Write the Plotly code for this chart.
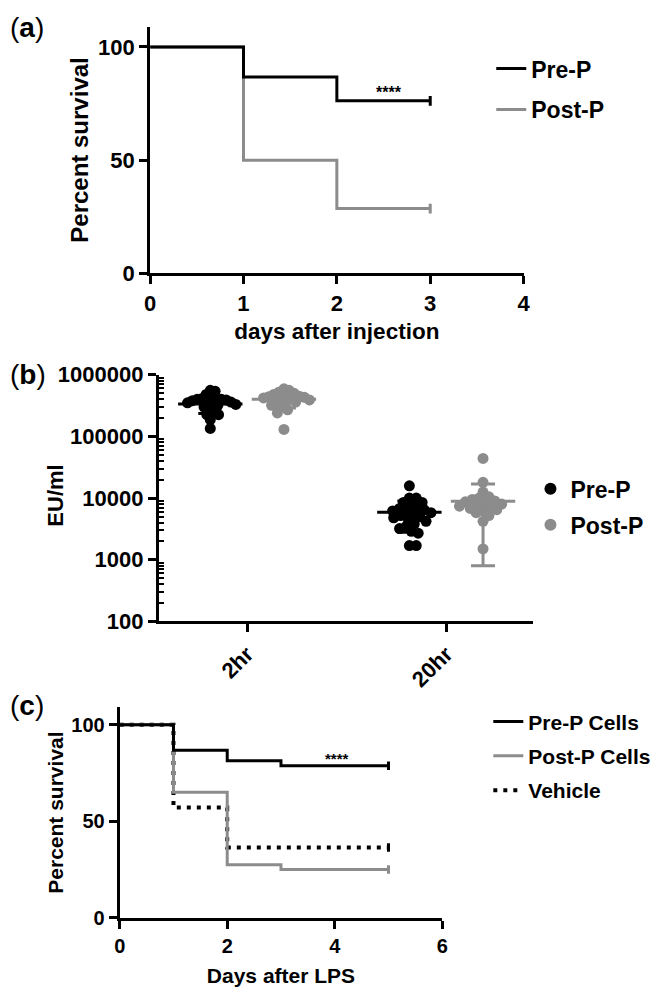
import numpy as np
import plotly.graph_objects as go

# (a) survie apres injection
days_a = [0, 1, 2, 3]
surv_a_pre = [100, 86.7, 76.2, 76.2]
surv_a_post = [100, 50, 28.6, 28.6]

# (b) endotoxine (EU/ml)
groups_b = ["2hr", "20hr"]
pre_2hr = [560000, 540000, 480000, 430000, 420000, 410000, 400000, 400000, 390000,
           380000, 370000, 360000, 350000, 340000, 330000, 320000, 300000, 280000,
           260000, 225000, 225000, 187000, 135000]
post_2hr = [590000, 560000, 520000, 500000, 480000, 460000, 450000, 440000, 430000,
            420000, 410000, 400000, 390000, 380000, 360000, 340000, 320000, 300000,
            270000, 240000, 130000]
pre_20hr = [15800, 10000, 10000, 8500, 8500, 7500, 7000, 6800, 6500, 6200, 6000, 5800,
            5500, 5200, 5000, 4800, 4500, 4200, 3800, 3500, 3200, 2900, 2700, 1700, 1700]
post_20hr = [44000, 18000, 12500, 10500, 10000, 9500, 9000, 8700, 8300, 8000, 7700, 7400,
             7000, 6800, 6500, 6200, 5800, 5200, 4200, 1500]
mean_pre = [335000, 5900]
sd_pre = [100000, 3100]
mean_post = [400000, 8900]
sd_post = [110000, 8100]

# (c) survie apres LPS
days_c = [0, 1, 2, 3, 5]
surv_c_pre = [100, 86.7, 81.3, 78.7, 78.7]
surv_c_post = [100, 65, 27.5, 25, 25]
days_c_veh = [0, 1, 2, 5]
surv_c_veh = [100, 57.1, 36.4, 36.4]

BLACK = "black"
GREY = "#8c8c8c"
FONT = "Arial, Liberation Sans, sans-serif"


def bold(size):
    return dict(family=FONT, size=size, color="black", weight="bold")


# placement "beeswarm" simple, calcule en pixels puis resserre
def swarm(vals, px_x=203.0, px_dec=63.3, d=7.0, maxw=26.0):
    vals = sorted(vals, reverse=True)
    placed = []
    for v in vals:
        yv = np.log10(v) * px_dec
        best = 0
        for k in range(0, 200):
            cands = [0] if k == 0 else [k, -k]
            hit = [o for o in cands
                   if all((o - po) ** 2 + (yv - py) ** 2 >= d * d for po, py in placed)]
            if hit:
                best = hit[0]
                break
        placed.append((best, yv))
    offs = np.array([p[0] for p in placed], dtype=float)
    if np.abs(offs).max() > maxw:
        offs = offs * maxw / np.abs(offs).max()
    return vals, list(offs / px_x)


fig = go.Figure()

# ---- (a)
fig.add_trace(go.Scatter(x=days_a, y=surv_a_post, mode="lines", line_shape="hv",
                         line=dict(color=GREY, width=3), name="Post-P",
                         legend="legend", legendgroup="a2", legendrank=2,
                         xaxis="x", yaxis="y"))
fig.add_trace(go.Scatter(x=days_a, y=surv_a_pre, mode="lines", line_shape="hv",
                         line=dict(color=BLACK, width=3), name="Pre-P",
                         legend="legend", legendgroup="a1", legendrank=1,
                         xaxis="x", yaxis="y"))
fig.add_trace(go.Scatter(x=[days_a[-1], days_a[-1]], y=[surv_a_pre[-1], surv_a_post[-1]],
                         mode="markers", showlegend=False,
                         marker=dict(symbol="line-ns", size=7,
                                     line=dict(width=3, color=[BLACK, GREY])),
                         xaxis="x", yaxis="y"))

# ---- (b)
series_b = [
    ("Pre-P", BLACK, -1, [pre_2hr, pre_20hr], mean_pre, sd_pre),
    ("Post-P", GREY, 1, [post_2hr, post_20hr], mean_post, sd_post),
]
for k, (name, col, sgn, lists, means, sds) in enumerate(series_b):
    xs, ys = [], []
    for gi, vals in enumerate(lists):
        v_sorted, offs = swarm(vals)
        xs += [gi + sgn * 0.185 + o for o in offs]
        ys += v_sorted
    fig.add_trace(go.Scatter(x=xs, y=ys, mode="markers", name=name,
                             marker=dict(size=11, color=col, line=dict(width=0)),
                             legend="legend2", legendgroup="b%d" % k,
                             xaxis="x2", yaxis="y2"))
for name, col, sgn, lists, means, sds in series_b:
    fig.add_trace(go.Scatter(x=[gi + sgn * 0.185 for gi in range(len(groups_b))], y=means,
                             mode="markers", showlegend=False,
                             marker=dict(symbol="line-ew", size=46,
                                         line=dict(width=3, color=col)),
                             error_y=dict(type="data", array=sds, thickness=3,
                                          width=12, color=col),
                             xaxis="x2", yaxis="y2"))

# ---- (c)
fig.add_trace(go.Scatter(x=days_c_veh, y=surv_c_veh, mode="lines", line_shape="hv",
                         line=dict(color=BLACK, width=4, dash="4px,6px"), name="Vehicle",
                         legend="legend3", legendgroup="c3", legendrank=3,
                         xaxis="x3", yaxis="y3"))
fig.add_trace(go.Scatter(x=days_c, y=surv_c_post, mode="lines", line_shape="hv",
                         line=dict(color=GREY, width=3), name="Post-P Cells",
                         legend="legend3", legendgroup="c2", legendrank=2,
                         xaxis="x3", yaxis="y3"))
fig.add_trace(go.Scatter(x=days_c, y=surv_c_pre, mode="lines", line_shape="hv",
                         line=dict(color=BLACK, width=3), name="Pre-P Cells",
                         legend="legend3", legendgroup="c1", legendrank=1,
                         xaxis="x3", yaxis="y3"))
fig.add_trace(go.Scatter(x=[days_c[-1]] * 3,
                         y=[surv_c_pre[-1], surv_c_post[-1], surv_c_veh[-1]],
                         mode="markers", showlegend=False,
                         marker=dict(symbol="line-ns", size=6,
                                     line=dict(width=3, color=[BLACK, GREY, BLACK])),
                         xaxis="x3", yaxis="y3"))

W, H = 660, 1004
ax = dict(showline=True, linecolor="black", linewidth=3, showgrid=False, zeroline=False,
          ticks="outside", ticklen=8, tickwidth=3, tickcolor="black")
minor_b = [m * 10 ** e for e in range(2, 6) for m in range(2, 10)]

fig.update_layout(
    width=W, height=H, margin=dict(l=0, r=0, t=0, b=0),
    paper_bgcolor="white", plot_bgcolor="white", font=dict(family=FONT, color="black"),
    xaxis=dict(domain=[147 / W, 528 / W], range=[0, 4], dtick=1, anchor="y",
               tickfont=bold(22),
               title=dict(text="days after injection", font=bold(22.5), standoff=9), **ax),
    yaxis=dict(domain=[1 - 268 / H, 1 - 15 / H], range=[0, 109], tickvals=[0, 50, 100],
               anchor="x", tickfont=bold(22),
               title=dict(text="Percent survival", font=bold(24), standoff=3), **ax),
    xaxis2=dict(domain=[156 / W, 538 / W], range=[-0.443, 1.438], tickvals=[0, 1],
                ticktext=groups_b, tickangle=-45, anchor="y2", tickfont=bold(22), **ax),
    yaxis2=dict(domain=[1 - 625 / H, 1 - 372 / H], type="log", range=[2, 6],
                tickvals=[100, 1000, 10000, 100000, 1000000],
                ticktext=["100", "1000", "10000", "100000", "1000000"],
                anchor="x2", tickfont=bold(22),
                minor=dict(ticks="inside", ticklen=5, tickwidth=1.5, tickcolor="black",
                           tickvals=minor_b, showgrid=False),
                **ax),
    xaxis3=dict(domain=[116 / W, 445 / W], range=[0, 6], dtick=2, anchor="y3",
                tickfont=bold(20),
                title=dict(text="Days after LPS", font=bold(21), standoff=13), **ax),
    yaxis3=dict(domain=[1 - 929 / H, 1 - 713 / H], range=[0, 109], tickvals=[0, 50, 100],
                anchor="x3", tickfont=bold(20),
                title=dict(text="Percent survival", font=bold(21), standoff=2), **ax),
    legend=dict(x=495 / W, y=1 - 36 / H, xanchor="left", yanchor="top", font=bold(23),
                bgcolor="rgba(0,0,0,0)", tracegroupgap=8),
    legend2=dict(x=535 / W, y=1 - 467 / H, xanchor="left", yanchor="top", font=bold(23),
                 bgcolor="rgba(0,0,0,0)", itemsizing="constant", tracegroupgap=3),
    legend3=dict(x=492 / W, y=1 - 707 / H, xanchor="left", yanchor="top", font=bold(21),
                 bgcolor="rgba(0,0,0,0)", tracegroupgap=4),
    annotations=[
        dict(text="(<b>a</b>)", x=2 / W, y=1 - 16 / H, xref="paper", yref="paper",
             xanchor="left", yanchor="middle", showarrow=False, font=dict(family=FONT, size=28)),
        dict(text="(<b>b</b>)", x=2 / W, y=1 - 372 / H, xref="paper", yref="paper",
             xanchor="left", yanchor="middle", showarrow=False, font=dict(family=FONT, size=28)),
        dict(text="(<b>c</b>)", x=2 / W, y=1 - 711 / H, xref="paper", yref="paper",
             xanchor="left", yanchor="middle", showarrow=False, font=dict(family=FONT, size=28)),
        dict(text="EU/ml", x=51 / W, y=1 - 496 / H, xref="paper", yref="paper",
             xanchor="center", yanchor="middle",
             textangle=-90, showarrow=False, font=bold(22)),
        dict(text="****", x=2.56, y=80, xref="x", yref="y", showarrow=False, font=bold(16)),
        dict(text="****", x=4.04, y=82.5, xref="x3", yref="y3", showarrow=False, font=bold(15)),
    ],
)

fig.write_html("out.html", config={"displayModeBar": False},
               post_script="document.body.style.margin='0px';")
